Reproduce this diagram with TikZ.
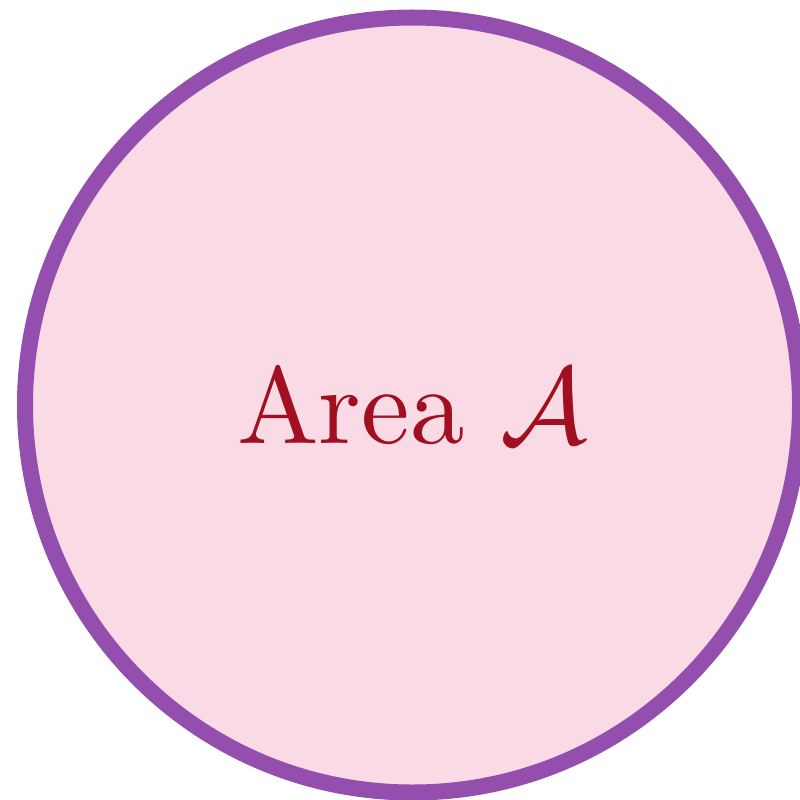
\documentclass[tikz,border=0pt]{standalone}
\usepackage{amsmath,amssymb}
\usepackage{xcolor}
\usepackage{graphicx}
\usepackage{tikz}
\usetikzlibrary{positioning}
\definecolor{areapurple}{RGB}{148,78,174}
\definecolor{arealight}{RGB}{250,218,229}
\definecolor{areared}{RGB}{160,16,32}

\begin{document}
\begin{tikzpicture}

% Canvas
\useasboundingbox (0,0) rectangle (8,7.99);
\clip (0,0) rectangle (8,7.99);

% Region with its area
\node[circle, draw=areapurple, fill=arealight, line width=0.16cm, minimum size=7.75cm, inner sep=0pt, text=areared] (area) at (4.125,3.94) {\scalebox{3.1}{Area $\mathcal{A}$}};

\end{tikzpicture}
\end{document}
